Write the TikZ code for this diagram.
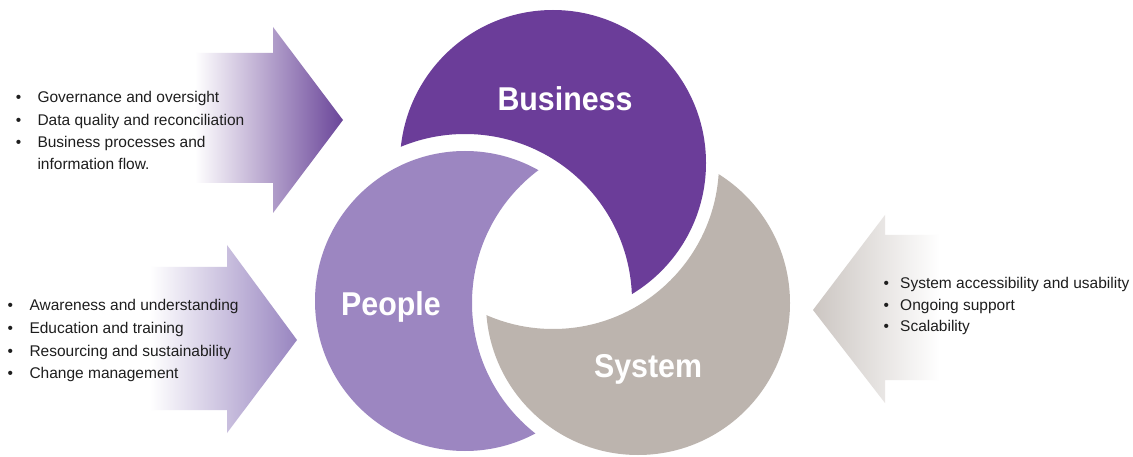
\documentclass[tikz,border=0pt]{standalone}
\usepackage{fontspec}
\setmainfont{Liberation Sans}
\usepackage{graphicx}
\definecolor{bus}{HTML}{6B3D99}
\definecolor{peo}{HTML}{9C86C1}
\definecolor{sys}{HTML}{BCB4AE}
\definecolor{arrA}{HTML}{6A4599}
\definecolor{arrB}{HTML}{9885C0}
\definecolor{arrC}{HTML}{CCC6C2}
\definecolor{txt}{HTML}{1E1E1E}
\begin{document}
\begin{tikzpicture}[x=1pt,y=-1pt,
  lab/.style={text=white, font=\fontsize{33}{38}\selectfont\bfseries, inner sep=0pt, anchor=base},
  listbox/.style={text=txt, inner sep=0pt, anchor=base west}]
\useasboundingbox (0,0) rectangle (1133,457);
\fill[white] (0,0) rectangle (1133,457);

% block arrows
\shade[left color=white, right color=arrA] (195,53) -- (273,53) -- (273,27) -- (343,120) -- (273,213) -- (273,183) -- (195,183) -- cycle;
\shade[left color=white, right color=arrB] (150,267) -- (227,267) -- (227,245) -- (297,340) -- (227,433) -- (227,410) -- (150,410) -- cycle;
\shade[left color=arrC, right color=white] (940,235) -- (885,235) -- (885,215) -- (813,310) -- (885,403) -- (885,380) -- (940,380) -- cycle;

% circle centres
\coordinate (B) at (553,163);
\coordinate (P) at (465,301);
\coordinate (S) at (638,303);

% Business: its circle minus the enlarged People circle
\begin{scope}[even odd rule]
\clip (-20,-20) rectangle (1160,480) (P) circle[radius=167pt];
\fill[bus] (B) circle[radius=153pt];
\end{scope}
% People: its circle minus the enlarged System circle
\begin{scope}[even odd rule]
\clip (-20,-20) rectangle (1160,480) (S) circle[radius=166pt];
\fill[peo] (P) circle[radius=150pt];
\end{scope}
% System: its circle minus the enlarged Business circle
\begin{scope}[even odd rule]
\clip (-20,-20) rectangle (1160,480) (B) circle[radius=166pt];
\fill[sys] (S) circle[radius=152pt];
\end{scope}

% labels
\node[lab] (business) at (565,111) {\scalebox{0.92}[1]{Business}};
\node[lab] (people) at (391,315) {\scalebox{0.92}[1]{People}};
\node[lab] (system) at (648,377) {\scalebox{0.92}[1]{System}};

% lists
\node[listbox, font=\fontsize{15.5}{22.3}\selectfont] (list1) at (15.6,103) {\begin{tabular}[t]{@{}l@{\hspace{16.3pt}}l@{}}
• & Governance and oversight\\
• & Data quality and reconciliation\\
• & Business processes and\\
  & information flow.
\end{tabular}};
\node[listbox, font=\fontsize{15.5}{23}\selectfont] (list2) at (7.3,310) {\begin{tabular}[t]{@{}l@{\hspace{16.6pt}}l@{}}
• & Awareness and understanding\\
• & Education and training\\
• & Resourcing and sustainability\\
• & Change management
\end{tabular}};
\node[listbox, font=\fontsize{15.5}{21.5}\selectfont] (list3) at (883.3,289) {\begin{tabular}[t]{@{}l@{\hspace{11.3pt}}l@{}}
• & System accessibility and usability\\
• & Ongoing support\\
• & Scalability
\end{tabular}};
\end{tikzpicture}
\end{document}
